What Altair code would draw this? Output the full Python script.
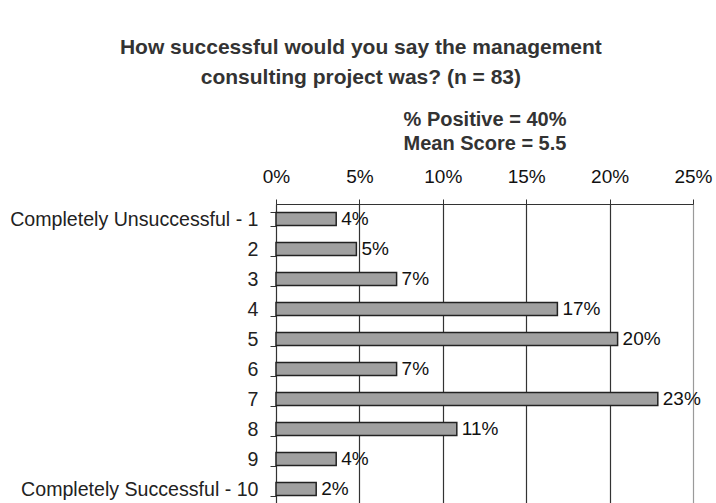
import altair as alt
import pandas as pd

categories = ["Completely Unsuccessful - 1", "2", "3", "4", "5", "6", "7", "8", "9",
              "Completely Successful - 10"]
shares = [0.0361, 0.0482, 0.0723, 0.1687, 0.2048, 0.0723, 0.2289, 0.1084, 0.0361, 0.0241]
x_ticks = [0, 0.05, 0.10, 0.15, 0.20, 0.25]
title_lines = ["How successful would you say the management",
               "consulting project was? (n = 83)"]
stat_lines = ["% Positive = 40%", "Mean Score = 5.5"]

df = pd.DataFrame({"cat": categories, "share": shares})

FONT = "Liberation Sans"

x = alt.X(
    "share:Q",
    scale=alt.Scale(domain=[0, 0.25], nice=False, zero=True),
    axis=alt.Axis(
        orient="top",
        values=x_ticks,
        format=".0%",
        title=stat_lines,
        titleFont=FONT,
        titleFontSize=20,
        titleFontWeight="bold",
        titleColor="#333333",
        titleLineHeight=24,
        titlePadding=14,
        labelFont=FONT,
        labelFontSize=19,
        labelColor="#111111",
        labelPadding=13,
        labelFlush=False,
        tickSize=5,
        tickColor="#333333",
        domainColor="#333333",
        grid=True,
        gridColor={"condition": {"test": "datum.value >= 0.25", "value": "#9a9a9a"},
                   "value": "#333333"},
        gridOpacity=1,
        gridWidth=1.2,
    ),
)
y = alt.Y(
    "cat:N",
    sort=categories,
    scale=alt.Scale(paddingInner=0.56, paddingOuter=0.28),
    axis=alt.Axis(
        title=None,
        tickBand="extent",
        labelFont=FONT,
        labelFontSize=19.6,
        labelColor="#222222",
        labelPadding=12,
        labelLimit=0,
        tickSize=6,
        tickColor="#333333",
        domainColor="#333333",
        grid=False,
    ),
)

bars = alt.Chart(df).mark_bar(
    fill="#a0a0a0", stroke="#222222", strokeWidth=1.5
).encode(x=x, y=y)

labels = alt.Chart(df).mark_text(
    align="left", baseline="middle", dx=5, font=FONT, fontSize=19, color="#111111"
).encode(
    x="share:Q",
    y=alt.Y("cat:N", sort=categories),
    text=alt.Text("share:Q", format=".0%"),
)

chart = (bars + labels).properties(
    width=417,
    height=300,
    title=alt.TitleParams(
        text=title_lines,
        font=FONT,
        fontSize=21,
        fontWeight="bold",
        color="#333333",
        anchor="middle",
        frame="bounds",
        offset=21,
        lineHeight=30,
    ),
    autosize=alt.AutoSizeParams(type="none"),
    padding={"left": 276, "top": 204, "right": 23, "bottom": 0},
).configure_view(stroke=None).configure(background="white")

chart.save("out.html", embed_options={"renderer": "svg", "actions": False})
